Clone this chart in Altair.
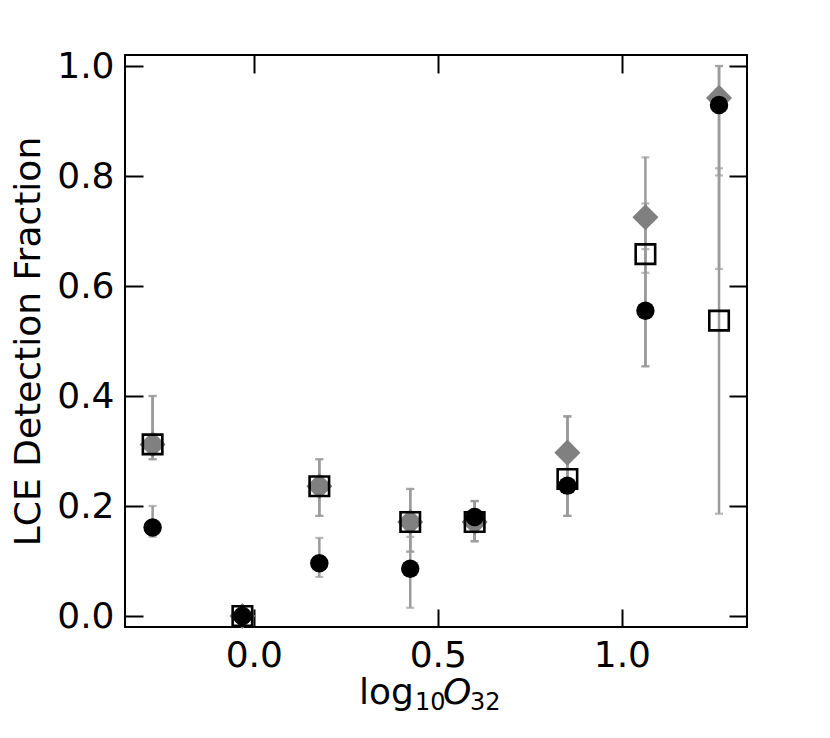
import altair as alt
import pandas as pd

# ---- data ----
x_vals = [-0.275, -0.031, 0.178, 0.425, 0.600, 0.852, 1.064, 1.264]

circle_y = [0.161, 0.000, 0.096, 0.086, 0.180, 0.237, 0.555, 0.929]
circle_lo = [0.144, 0.000, 0.071, 0.015, 0.136, 0.182, 0.454, 0.631]
circle_hi = [0.200, 0.000, 0.142, 0.144, 0.209, 0.363, 0.667, 1.000]

square_y = [0.312, 0.000, 0.236, 0.171, 0.171, 0.249, 0.658, 0.537]
square_lo = [0.285, 0.000, 0.182, 0.117, 0.136, 0.182, 0.454, 0.186]
square_hi = [0.400, 0.000, 0.285, 0.231, 0.209, 0.363, 0.750, 0.814]

diamond_y = [0.312, 0.000, 0.236, 0.171, 0.171, 0.297, 0.725, 0.942]
diamond_lo = [0.285, 0.000, 0.182, 0.117, 0.136, 0.182, 0.624, 0.801]
diamond_hi = [0.400, 0.012, 0.285, 0.231, 0.209, 0.363, 0.834, 1.000]

x_ticks = [0.0, 0.5, 1.0]
y_ticks = [0.0, 0.2, 0.4, 0.6, 0.8, 1.0]

# x-axis title pieces: log10 O32 (mathtext style)
title_parts = ["log", "10", "O", "32"]

rows = []
for name, ys, los, his in [
    ("circle", circle_y, circle_lo, circle_hi),
    ("square", square_y, square_lo, square_hi),
    ("diamond", diamond_y, diamond_lo, diamond_hi),
]:
    for xv, yv, lo, hi in zip(x_vals, ys, los, his):
        rows.append({"series": name, "x": xv, "y": yv, "lo": lo, "hi": hi})
df = pd.DataFrame(rows)

FONT = "DejaVu Sans"
FS = 36
SUB = 24
TL = 18
xscale = alt.Scale(domain=[-0.35, 1.34], nice=False, zero=False)
yscale = alt.Scale(domain=[-0.02, 1.02], nice=False, zero=False)

common = dict(tickSize=TL, offset=-TL, domain=False, tickColor="black",
              tickWidth=2, grid=False, labelFlush=False, labelOverlap=False)

ax_bottom = alt.Axis(orient="bottom", values=x_ticks, format=".1f",
                     labelFont=FONT, labelFontSize=FS, labelColor="black",
                     labelPadding=11, title=None, **common)
ax_left = alt.Axis(orient="left", values=y_ticks, format=".1f",
                   labelFont=FONT, labelFontSize=FS, labelColor="black",
                   labelPadding=11, title="LCE Detection Fraction",
                   titleFont=FONT, titleFontSize=FS, titleFontWeight="normal",
                   titleColor="black", titlePadding=9, **common)
ax_top = alt.Axis(orient="top", values=x_ticks, labels=False, title=None, **common)
ax_right = alt.Axis(orient="right", values=y_ticks, labels=False, title=None, **common)

base = alt.Chart(df)
ERR = "#9b9b9b"

rules = base.mark_rule(color=ERR, strokeWidth=2.5).encode(
    x=alt.X("x:Q", scale=xscale, axis=ax_bottom),
    y=alt.Y("lo:Q", scale=yscale, axis=ax_left),
    y2="hi:Q",
)
cap_lo = base.mark_tick(orient="horizontal", color=ERR, size=8, thickness=2.2).encode(
    x=alt.X("x:Q", scale=xscale, axis=None),
    y=alt.Y("lo:Q", scale=yscale, axis=None),
)
cap_hi = base.mark_tick(orient="horizontal", color=ERR, size=8, thickness=2.2).encode(
    x=alt.X("x:Q", scale=xscale, axis=None),
    y=alt.Y("hi:Q", scale=yscale, axis=None),
)
diamonds = base.transform_filter(alt.datum.series == "diamond").mark_point(
    shape="diamond", filled=True, color="#808080", size=680, opacity=1
).encode(
    x=alt.X("x:Q", scale=xscale, axis=None),
    y=alt.Y("y:Q", scale=yscale, axis=None),
)
squares = base.transform_filter(alt.datum.series == "square").mark_point(
    shape="square", filled=False, color="black", strokeWidth=2.6, size=380, opacity=1
).encode(
    x=alt.X("x:Q", scale=xscale, axis=None),
    y=alt.Y("y:Q", scale=yscale, axis=None),
)
circles = base.transform_filter(alt.datum.series == "circle").mark_point(
    shape="circle", filled=True, color="black", size=340, opacity=1
).encode(
    x=alt.X("x:Q", scale=xscale, axis=ax_top),
    y=alt.Y("y:Q", scale=yscale, axis=ax_right),
)

# x-axis title built from text pieces (normal / subscript / italic)
def title_piece(txt, px, py, size, style="normal"):
    return alt.Chart(pd.DataFrame({"t": [txt]})).mark_text(
        font=FONT, fontSize=size, fontStyle=style, color="black",
        align="left", baseline="alphabetic",
    ).encode(text="t:N", x=alt.value(px), y=alt.value(py))

xtitle = (
    title_piece(title_parts[0], 234, 649, FS)
    + title_piece(title_parts[1], 290, 655, SUB)
    + title_piece(title_parts[2], 318, 649, FS, "italic")
    + title_piece(title_parts[3], 345, 655, SUB)
)

chart = (
    alt.layer(rules, cap_lo, cap_hi, diamonds, squares, circles, xtitle)
    .resolve_axis(x="independent", y="independent")
    .properties(
        width=622, height=572,
        autosize=alt.AutoSizeParams(type="none"),
        padding={"left": 117, "top": 47, "right": 75, "bottom": 103},
        background="white",
    )
    .configure_view(stroke="black", strokeWidth=2)
)

chart.save("out.html", embed_options={"renderer": "svg", "actions": False})
